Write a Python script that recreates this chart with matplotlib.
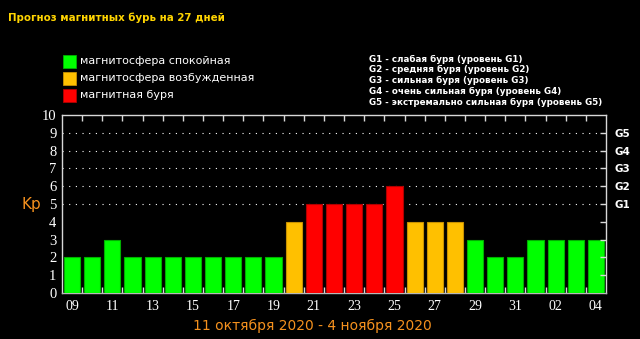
import matplotlib.pyplot as plt
from matplotlib.patches import Rectangle
from matplotlib.ticker import FixedLocator

plt.rcParams['lines.scale_dashes'] = False

# --- forecast data: 09 Oct - 04 Nov ---
days = ['09', '10', '11', '12', '13', '14', '15', '16', '17', '18', '19', '20', '21', '22',
        '23', '24', '25', '26', '27', '28', '29', '30', '31', '01', '02', '03', '04']
kp = [2, 2, 3, 2, 2, 2, 2, 2, 2, 2, 2, 4, 5, 5, 5, 5, 6, 4, 4, 4, 3, 2, 2, 3, 3, 3, 3]

legend_labels = ['магнитосфера спокойная', 'магнитосфера возбужденная', 'магнитная буря']
storm_levels = ['G1 - слабая буря (уровень G1)',
                'G2 - средняя буря (уровень G2)',
                'G3 - сильная буря (уровень G3)',
                'G4 - очень сильная буря (уровень G4)',
                'G5 - экстремально сильная буря (уровень G5)']

GREEN, ORANGE, RED = '#00ff00', '#ffc000', '#ff0000'
EDGE = {GREEN: '#00b000', ORANGE: '#c89000', RED: '#b00000'}


def kp_color(v):
    if v >= 5:
        return RED
    if v == 4:
        return ORANGE
    return GREEN


W, H = 640, 339
fig = plt.figure(figsize=(W / 100, H / 100), dpi=100, facecolor='black')

# plot area in pixels: x 62..606, y 115..293
ax = fig.add_axes([62 / W, (H - 293) / H, 544 / W, 178 / H], facecolor='black')

x = list(range(len(days)))
colors = [kp_color(v) for v in kp]
ax.bar(x, kp, width=0.8, color=colors, edgecolor=[EDGE[c] for c in colors],
       linewidth=0.8, zorder=3)

ax.set_xlim(-0.5, len(days) - 0.5)
ax.set_ylim(0, 10)

# dotted guides for storm levels
for lvl in range(5, 10):
    ax.axhline(lvl, color='white', linewidth=0.8, linestyle=(0, (0.8, 4.0)), zorder=1)

for s in ax.spines.values():
    s.set_color('#d8d8d8')
    s.set_linewidth(1.0)
ax.spines['bottom'].set_color('#b8b8b8')

ax.set_xticks(x[::2])
ax.set_xticklabels(days[::2])
ax.xaxis.set_minor_locator(FixedLocator([i - 0.5 for i in range(1, len(days))]))
ax.tick_params(axis='x', which='major', length=0, pad=5, colors='white',
               labelsize=10)
ax.tick_params(axis='x', which='minor', length=4, direction='in', top=True,
               bottom=True, color='#d8d8d8', width=1)
for lab in ax.get_xticklabels():
    lab.set_family('Liberation Serif')

ax.set_yticks(range(0, 11))
ax.tick_params(axis='y', length=0, pad=4, colors='white', labelsize=10.5)
for lab in ax.get_yticklabels():
    lab.set_family('Liberation Serif')

# storm level scale on the right
ax2 = ax.twinx()
ax2.set_ylim(0, 10)
ax2.set_yticks(range(1, 10))
ax2.set_yticklabels(['', '', '', '', 'G1', 'G2', 'G3', 'G4', 'G5'])
ax2.tick_params(axis='y', length=4, direction='in', color='#d8d8d8', width=1,
                pad=6, colors='white', labelsize=7.5)
ax2.tick_params(axis='y', color='#d8d8d8')
for lab in ax2.get_yticklabels():
    lab.set_fontweight('bold')
for s in ax2.spines.values():
    s.set_visible(False)

# title
fig.text(8 / W, 1 - 18 / H, 'Прогноз магнитных бурь на 27 дней', color='#ffd400',
         fontsize=7.4, fontweight='bold', va='center', ha='left')

# colour legend
for i, (lab, c) in enumerate(zip(legend_labels, [GREEN, ORANGE, RED])):
    yc = 61 + i * 17
    fig.add_artist(Rectangle((63 / W, 1 - (yc + 6.5) / H), 13 / W, 13 / H,
                             transform=fig.transFigure, facecolor=c,
                             edgecolor=EDGE[c], linewidth=0.6))
    fig.text(80 / W, 1 - yc / H, lab, color='white', fontsize=8,
             va='center', ha='left')

# storm scale legend
for i, lab in enumerate(storm_levels):
    fig.text(369 / W, 1 - (59 + i * 10.8) / H, lab, color='white', fontsize=6.35,
             fontweight='bold', va='center', ha='left')

fig.text(31 / W, 1 - 205 / H, 'Kp', color='#f5911e', fontsize=11,
         va='center', ha='center')
fig.text(312 / W, 1 - 326 / H, '11 октября 2020 - 4 ноября 2020', color='#f5911e',
         fontsize=10, va='center', ha='center')

fig.savefig('out.png', dpi=100, facecolor='black')
